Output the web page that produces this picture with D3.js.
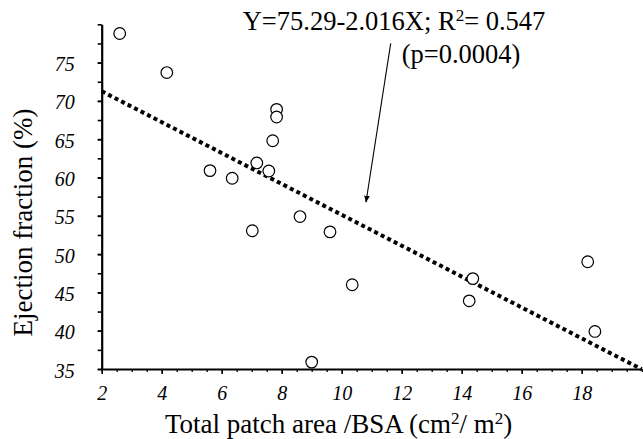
<!DOCTYPE html>
<html>
<head>
<meta charset="utf-8">
<script src="https://cdn.jsdelivr.net/npm/d3@7"></script>
<style>
  body { margin: 0; background: white; }
  svg { display: block; }
  text { font-family: "Liberation Serif", "Times New Roman", serif; fill: black; }
</style>
</head>
<body>
<div id="chart"></div>
<script>
let w = 643;
let h = 439;

// data
const patchArea = [2.6, 4.17, 7.83, 7.83, 7.7, 5.61, 6.35, 7.17, 7.57, 8.61, 7.02, 9.0, 9.61, 10.35, 14.37, 14.25, 18.2, 18.44];
const ejectionFraction = [78.8, 73.7, 68.9, 67.9, 64.8, 60.9, 59.9, 61.9, 60.85, 54.9, 53.05, 35.9, 52.9, 46.0, 46.8, 43.9, 49.0, 39.9];
const xTickLabels = [2, 4, 6, 8, 10, 12, 14, 16, 18];
const yTickLabels = [35, 40, 45, 50, 55, 60, 65, 70, 75];
const intercept = 75.29;
const slope = -2.016;
const eqText = ["Y=75.29-2.016X; R", "2", "= 0.547"];
const pText = "(p=0.0004)";

let svg = d3.select("#chart")
  .append("svg")
  .attr("width", w)
  .attr("height", h);

let x = d3.scaleLinear().domain([2, 20]).range([101.7, 641.7]);
let y = d3.scaleLinear().domain([35, 80]).range([369, 24.3]);

// x axis: minor ticks every 0.5, major every 2
svg.append("g")
  .attr("transform", `translate(0, ${y(35)})`)
  .call(d3.axisBottom(x).tickValues(d3.range(2, 20.01, 0.5)).tickSize(3).tickFormat(""))
  .call(g => g.select(".domain").remove())
  .selectAll("line").attr("stroke-width", 1.3);

svg.append("g")
  .attr("transform", `translate(0, ${y(35)})`)
  .call(d3.axisBottom(x).tickValues(xTickLabels).tickSize(5).tickPadding(12).tickSizeOuter(0))
  .call(g => g.select(".domain").attr("stroke-width", 2.2))
  .call(g => g.selectAll("line").attr("stroke-width", 1.6))
  .call(g => g.selectAll("text")
    .attr("font-size", 20)
    .attr("font-style", "italic")
    .attr("font-family", "Liberation Serif")
    .attr("dy", "0.71em"));

// y axis: ticks every 2.5
svg.append("g")
  .attr("transform", `translate(${x(2)}, 0)`)
  .call(d3.axisLeft(y).tickValues(d3.range(35, 80.01, 2.5)).tickSize(4).tickFormat(""))
  .call(g => g.select(".domain").remove())
  .selectAll("line").attr("stroke-width", 1.6);

svg.append("g")
  .attr("transform", `translate(${x(2)}, 0)`)
  .call(d3.axisLeft(y).tickValues(yTickLabels).tickSize(4).tickPadding(23).tickSizeOuter(0))
  .call(g => g.select(".domain").attr("stroke-width", 2.2))
  .call(g => g.selectAll("line").attr("stroke-width", 1.6))
  .call(g => g.selectAll("text")
    .attr("font-size", 20)
    .attr("font-style", "italic")
    .attr("font-family", "Liberation Serif")
    .attr("dy", "0.4em"));

// regression line
svg.append("line")
  .attr("x1", x(2))
  .attr("y1", y(intercept + slope * 2))
  .attr("x2", x(20))
  .attr("y2", y(intercept + slope * 20))
  .attr("stroke", "black")
  .attr("stroke-width", 4)
  .attr("stroke-dasharray", "4,3.3");

// points
svg.append("g")
  .selectAll("circle")
  .data(patchArea.map((d, i) => [d, ejectionFraction[i]]))
  .join("circle")
  .attr("cx", d => x(d[0]))
  .attr("cy", d => y(d[1]))
  .attr("r", 5.8)
  .attr("fill", "white")
  .attr("stroke", "black")
  .attr("stroke-width", 1.2);

// equation annotation
let eq = svg.append("text")
  .attr("x", 242.7)
  .attr("y", 29.5)
  .attr("font-size", 26.5);
eq.append("tspan").text(eqText[0]);
eq.append("tspan").attr("dy", -9).attr("font-size", 17).text(eqText[1]);
eq.append("tspan").attr("dy", 9).text(eqText[2]);

svg.append("text")
  .attr("x", 401.7)
  .attr("y", 63)
  .attr("font-size", 26.5)
  .text(pText);

// arrow
svg.append("defs").append("marker")
  .attr("id", "arrow")
  .attr("viewBox", "0 0 10 10")
  .attr("refX", 9)
  .attr("refY", 5)
  .attr("markerWidth", 7)
  .attr("markerHeight", 7)
  .attr("markerUnits", "userSpaceOnUse")
  .attr("orient", "auto")
  .append("path")
  .attr("d", "M0,1 L10,5 L0,9 Z")
  .attr("fill", "black");

svg.append("line")
  .attr("x1", 390.7)
  .attr("y1", 43.3)
  .attr("x2", 366)
  .attr("y2", 202)
  .attr("stroke", "black")
  .attr("stroke-width", 1.1)
  .attr("marker-end", "url(#arrow)");

// axis titles
let xt = svg.append("text")
  .attr("x", 165)
  .attr("y", 433)
  .attr("font-size", 27);
xt.append("tspan").text("Total patch area /BSA (cm");
xt.append("tspan").attr("dy", -9).attr("font-size", 17).text("2");
xt.append("tspan").attr("dy", 9).text("/ m");
xt.append("tspan").attr("dy", -9).attr("font-size", 17).text("2");
xt.append("tspan").attr("dy", 9).text(")");

svg.append("text")
  .attr("transform", "translate(31.7, 222.5) rotate(-90)")
  .attr("text-anchor", "middle")
  .attr("font-size", 27)
  .text("Ejection fraction (%)");
</script>
</body>
</html>
